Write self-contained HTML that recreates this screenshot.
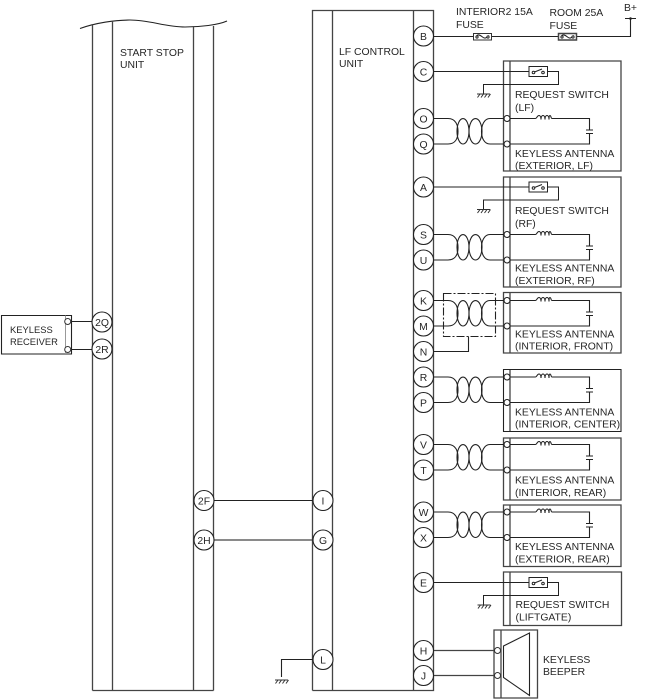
<!DOCTYPE html>
<html><head><meta charset="utf-8">
<style>
html,body{margin:0;padding:0;background:#fff;width:654px;height:699px;overflow:hidden}
svg{display:block}
text{font-family:"Liberation Sans",sans-serif;font-size:10.4px;fill:#262626}
.c{text-anchor:middle}
.s{font-size:9.4px}
.l{fill:none;stroke:#222;stroke-width:1.1}
.g{fill:none;stroke:#444;stroke-width:1.3}
</style></head><body>
<svg width="654" height="699" viewBox="0 0 654 699" xmlns="http://www.w3.org/2000/svg">
<defs>
<g id="tw" fill="none" stroke="#222" stroke-width="1.1">
<path d="M433.500 0H448C456 0 458 7 458 13S456 25.500 448 25.500H433.500"/>
<ellipse cx="463" cy="12.800" rx="6" ry="12.700"/>
<ellipse cx="475.500" cy="12.800" rx="6.500" ry="12.700"/>
<path d="M503.500 0H490C484 0 481.500 7 481.500 13S484 25.500 490 25.500H503.500"/>
<circle cx="507" cy="0" r="3" fill="#fff"/>
<circle cx="507" cy="25.500" r="3" fill="#fff"/>
<path d="M510 0H535.500M552 0H589.500V11M586 11.500H593M586 15H593M589.500 15V25.500H510"/>
<path d="M535.500 0C537 0 537 -3 539 -3S541 1 541 1 541 -3 543 -3 545 1 545 1 545 -3 547 -3 549 1 549 1 549 -3 550 -3 551 0 552 0"/>
</g>
<g id="sw" fill="none" stroke="#222" stroke-width="1">
<rect x="529" y="-5" width="18.500" height="10" fill="#fff"/>
<circle cx="533.500" cy="1" r="1.300"/><circle cx="543" cy="1" r="1.300"/>
<path d="M534.500 .5L542 -2.500"/>
<path d="M433.500 0H529M547.500 0H558.500V13H483.500V22"/>
</g>
<g id="gnd" fill="none" stroke="#333" stroke-width="1">
<path d="M-6.500 0H6.500M-6 3.500L-3.500 0M-2.500 3.500L0 0M1 3.500L3.500 0M4.500 3.500L7 0"/>
</g>
</defs>

<!-- start stop unit -->
<path class="l" d="M80 28.500C95 23 115 20 130 20C150 20 165 27 185 27C200 27 218 25 227 21"/>
<path class="g" d="M92.500 24V690.500M112.500 21V690.500M193.500 26V690.500M213.500 26V690.500M92.500 690.500H213.500"/>
<text x="120" y="56">START STOP</text><text x="120" y="68">UNIT</text>

<!-- LF control unit -->
<path class="g" d="M312.500 690.500V10.500H433.500V690.500H312.500M332.500 10.500V690.500M413.500 10.500V690.500"/>
<text x="339" y="55">LF CONTROL</text><text x="339" y="67">UNIT</text>

<!-- top fuses -->
<path class="l" d="M433.500 36.500H630.500V18.500M625 18.500H636"/>
<circle cx="630.500" cy="18.500" r="1.300" fill="#222"/>
<rect x="473.500" y="33.500" width="18" height="6.500" fill="#fff" stroke="#333"/>
<rect x="558.500" y="33.500" width="18" height="6.500" fill="#fff" stroke="#444" stroke-width="1.500"/>
<path class="l" d="M476 37C477.500 33.500 480 35 482.500 37S486 38 489 35.500M561 37C562.500 33.500 565 35 567.500 37S571 38 574 35.500"/>
<circle cx="477" cy="37" r="1.100" fill="#fff" stroke="#222"/><circle cx="488" cy="37" r="1.100" fill="#fff" stroke="#222"/>
<circle cx="562" cy="37" r="1.100" fill="#fff" stroke="#222"/><circle cx="573" cy="37" r="1.100" fill="#fff" stroke="#222"/>
<text x="456" y="15">INTERIOR2 15A</text><text x="456" y="28">FUSE</text>
<text x="549.500" y="16">ROOM 25A</text><text x="549.500" y="29">FUSE</text>
<text x="624" y="11">B+</text>

<!-- boxes -->
<path class="g" d="M503.500 61H621V171H503.500ZM510 61V171"/>
<path class="g" d="M503.500 177H621V287H503.500ZM510 177V287"/>
<path class="g" d="M503.500 292.500H621V353H503.500ZM510 292.500V353"/>
<path class="l" d="M503.500 369.500H621V431.500H503.500ZM510 369.500V431.500"/>
<path class="g" d="M503.500 438H621V500H503.500ZM510 438V500"/>
<path class="g" d="M503.500 505H621V566.500H503.500ZM510 505V566.500"/>
<path class="g" d="M503.500 572H621.500V625.500H503.500ZM510 572V625.500"/>

<!-- switches -->
<use href="#sw" x="0" y="71.500"/>
<use href="#gnd" x="483.500" y="94"/>
<use href="#sw" x="0" y="187"/>
<use href="#gnd" x="483.500" y="209.500"/>
<use href="#sw" x="0" y="582.500"/>
<use href="#gnd" x="484" y="605"/>

<!-- twists -->
<use href="#tw" x="0" y="118.500"/>
<use href="#tw" x="0" y="234.500"/>
<use href="#tw" x="0" y="300.500"/>
<use href="#tw" x="0" y="377"/>
<use href="#tw" x="0" y="444.500"/>
<use href="#tw" x="0" y="512"/>

<!-- shield -->
<path class="l" stroke-dasharray="8 2 2 2" d="M443.500 293.500H495.500V336.500H443.500Z"/>
<path class="l" d="M433.500 351.500H468.500V336.500"/>

<!-- labels in boxes -->
<text x="515" y="98">REQUEST SWITCH</text><text x="515" y="111">(LF)</text>
<text x="515" y="157">KEYLESS ANTENNA</text><text x="515" y="169">(EXTERIOR, LF)</text>
<text x="515" y="214">REQUEST SWITCH</text><text x="515" y="227">(RF)</text>
<text x="515" y="271.500">KEYLESS ANTENNA</text><text x="515" y="284">(EXTERIOR, RF)</text>
<text x="515" y="337.500">KEYLESS ANTENNA</text><text x="515" y="349.500">(INTERIOR, FRONT)</text>
<text x="515" y="415.500">KEYLESS ANTENNA</text><text x="515" y="427.500">(INTERIOR, CENTER)</text>
<text x="515" y="483.500">KEYLESS ANTENNA</text><text x="515" y="496">(INTERIOR, REAR)</text>
<text x="515" y="550">KEYLESS ANTENNA</text><text x="515" y="562.500">(EXTERIOR, REAR)</text>
<text x="515.500" y="608">REQUEST SWITCH</text><text x="515.500" y="620.500">(LIFTGATE)</text>

<!-- beeper -->
<path class="g" d="M494 630H537.500V698H494ZM501 630V698"/>
<path class="g" d="M433.500 650.500H494M433.500 675.500H494"/>
<circle cx="497.500" cy="650.500" r="3" fill="#fff" stroke="#333"/>
<circle cx="497.500" cy="675.500" r="3" fill="#fff" stroke="#333"/>
<path class="l" d="M503.500 646L529.500 633V695.500L503.500 677.500Z"/>
<text x="543" y="663">KEYLESS</text><text x="543" y="675">BEEPER</text>

<!-- keyless receiver -->
<path class="l" d="M1.500 315.500H71.500V354H1.500Z"/>
<path d="M65.500 315.500V354" stroke="#999" fill="none"/>
<path class="l" d="M71.500 321.500H92.500M71.500 349.500H92.500"/>
<circle cx="67.700" cy="321.500" r="3" fill="#fff" stroke="#333"/>
<circle cx="67.700" cy="349.500" r="3" fill="#fff" stroke="#333"/>
<text class="s" x="10" y="333">KEYLESS</text><text class="s" x="10" y="345">RECEIVER</text>

<!-- links -->
<path class="l" d="M213.500 500.500H313"/>
<path class="g" d="M213.500 540H313"/>
<path class="l" d="M312.500 659.500H281.500V677"/>
<use href="#gnd" x="281.500" y="680"/>

<!-- connector circles -->
<g fill="#fff" stroke="#222" stroke-width="1.1">
<circle cx="423.500" cy="36" r="10"/><circle cx="423.500" cy="71.500" r="10"/>
<circle cx="423.500" cy="118.500" r="10"/><circle cx="423.500" cy="144" r="10"/>
<circle cx="423.500" cy="187" r="10"/><circle cx="423.500" cy="234.500" r="10"/>
<circle cx="423.500" cy="260" r="10"/><circle cx="423.500" cy="300.500" r="10"/>
<circle cx="423.500" cy="326" r="10"/><circle cx="423.500" cy="351.500" r="10"/>
<circle cx="423.500" cy="377" r="10"/><circle cx="423.500" cy="402.500" r="10"/>
<circle cx="423.500" cy="444.500" r="10"/><circle cx="423.500" cy="470" r="10"/>
<circle cx="423.500" cy="512" r="10"/><circle cx="423.500" cy="537.500" r="10"/>
<circle cx="423.500" cy="582.500" r="10"/><circle cx="423.500" cy="650.500" r="10"/>
<circle cx="423.500" cy="675.500" r="10"/>
<circle cx="323" cy="500.500" r="10"/><circle cx="323" cy="540" r="10"/>
<circle cx="323" cy="659.500" r="10"/>
<circle cx="204" cy="500.500" r="10"/><circle cx="204" cy="540" r="10"/>
<circle cx="102" cy="322" r="10"/><circle cx="102" cy="349" r="10"/>
</g>
<text class="c" x="423.500" y="40">B</text><text class="c" x="423.500" y="75.500">C</text>
<text class="c" x="423.500" y="122.500">O</text><text class="c" x="423.500" y="148">Q</text>
<text class="c" x="423.500" y="191">A</text><text class="c" x="423.500" y="238.500">S</text>
<text class="c" x="423.500" y="264">U</text><text class="c" x="423.500" y="304.500">K</text>
<text class="c" x="423.500" y="330">M</text><text class="c" x="423.500" y="355.500">N</text>
<text class="c" x="423.500" y="381">R</text><text class="c" x="423.500" y="406.500">P</text>
<text class="c" x="423.500" y="448.500">V</text><text class="c" x="423.500" y="474">T</text>
<text class="c" x="423.500" y="516">W</text><text class="c" x="423.500" y="541.500">X</text>
<text class="c" x="423.500" y="586.500">E</text><text class="c" x="423.500" y="654.500">H</text>
<text class="c" x="423.500" y="679.500">J</text>
<text class="c" x="323" y="504.500">I</text><text class="c" x="323" y="544">G</text>
<text class="c" x="323" y="663.500">L</text>
<text class="c" x="204" y="504.500">2F</text><text class="c" x="204" y="544">2H</text>
<text class="c" x="102" y="326">2Q</text><text class="c" x="102" y="353">2R</text>
</svg>
</body></html>
